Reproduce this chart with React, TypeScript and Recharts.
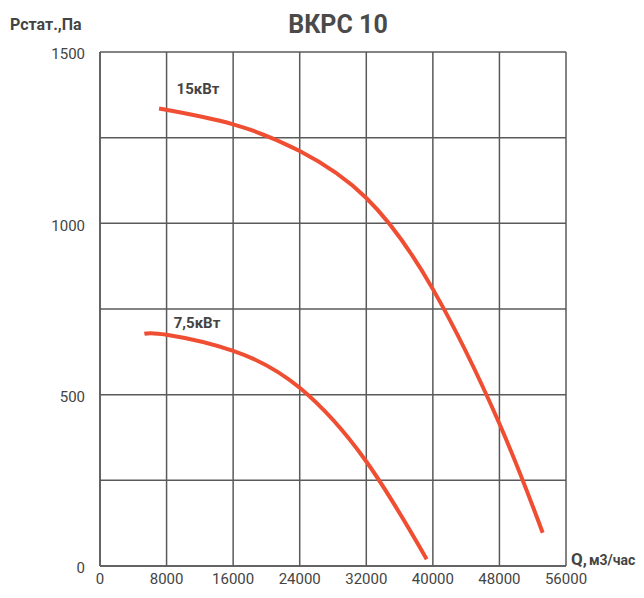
import React from 'react';
import { LineChart, Line, XAxis, YAxis, CartesianGrid, ReferenceDot } from 'recharts';

const xTicks = [0, 8000, 16000, 24000, 32000, 40000, 48000, 56000];
const yTicks = [0, 250, 500, 750, 1000, 1250, 1500];

const q15 = [7100, 16000, 24000, 32000, 40000, 48000, 53200];
const p15 = [1335, 1289, 1211, 1074, 808, 415, 97];

const q75 = [5330, 8000, 16000, 24000, 32000, 39260];
const p75 = [678, 675, 628, 520, 305, 20];

const data15 = q15.map((q, i) => ({ q, p: p15[i] }));
const data75 = q75.map((q, i) => ({ q, p: p75[i] }));

const GRID = '#5a5a5a';
const RED = '#F04E32';
const TXT = '#444444';
const FONT = 'Roboto, "Noto Sans", sans-serif';

export default function App() {
  return (
    <div style={{ position: 'absolute', left: 0, top: 0, width: 644, height: 598, fontFamily: FONT }}>
      <LineChart width={644} height={598} margin={{ top: 52, right: 78, bottom: 0, left: 0 }}>
        <CartesianGrid stroke={GRID} strokeWidth={1.5} />
        <XAxis
          type="number"
          dataKey="q"
          domain={[0, 56000]}
          ticks={xTicks}
          height={32}
          tickLine={false}
          tickSize={0}
          tickMargin={7}
          axisLine={{ stroke: GRID, strokeWidth: 1.5 }}
          tick={{ fill: TXT, fontSize: 15, fontFamily: FONT }}
          allowDataOverflow
        />
        <YAxis
          type="number"
          dataKey="p"
          domain={[0, 1500]}
          ticks={yTicks}
          width={100}
          tickLine={false}
          tickSize={0}
          tickMargin={15}
          axisLine={{ stroke: GRID, strokeWidth: 1.5 }}
          tick={{ fill: TXT, fontSize: 15, fontFamily: FONT, dy: 2 }}
          tickFormatter={(v: number) => (v % 500 === 0 ? String(v) : '')}
        />
        <Line data={data15} dataKey="p" type="natural" stroke={RED} strokeWidth={4} dot={false} isAnimationActive={false} />
        <Line data={data75} dataKey="p" type="natural" stroke={RED} strokeWidth={4} dot={false} isAnimationActive={false} />
        <ReferenceDot
          x={11780}
          y={1392}
          r={0}
          ifOverflow="visible"
          label={{ value: '15кВт', position: 'center', fill: TXT, fontSize: 15, fontWeight: 700, fontFamily: FONT }}
        />
        <ReferenceDot
          x={11660}
          y={709}
          r={0}
          ifOverflow="visible"
          label={{ value: '7,5кВт', position: 'center', fill: TXT, fontSize: 15, fontWeight: 700, fontFamily: FONT }}
        />
      </LineChart>
      <svg width={644} height={598} style={{ position: 'absolute', left: 0, top: 0, pointerEvents: 'none' }}>
        <text x={338} y={33} textAnchor="middle" fill="#4a4a4a" fontSize={25} fontWeight={700} fontFamily={FONT}>
          ВКРС 10
        </text>
        <text x={10} y={30} fill={TXT} fontSize={16} fontWeight={700} fontFamily={FONT}>
          Рстат.,Па
        </text>
        <text x={571} y={565} fill={TXT} fontWeight={700} fontFamily={FONT}>
          <tspan fontSize={17}>Q,</tspan>
          <tspan fontSize={14} dx={2}>м3/час</tspan>
        </text>
      </svg>
    </div>
  );
}
